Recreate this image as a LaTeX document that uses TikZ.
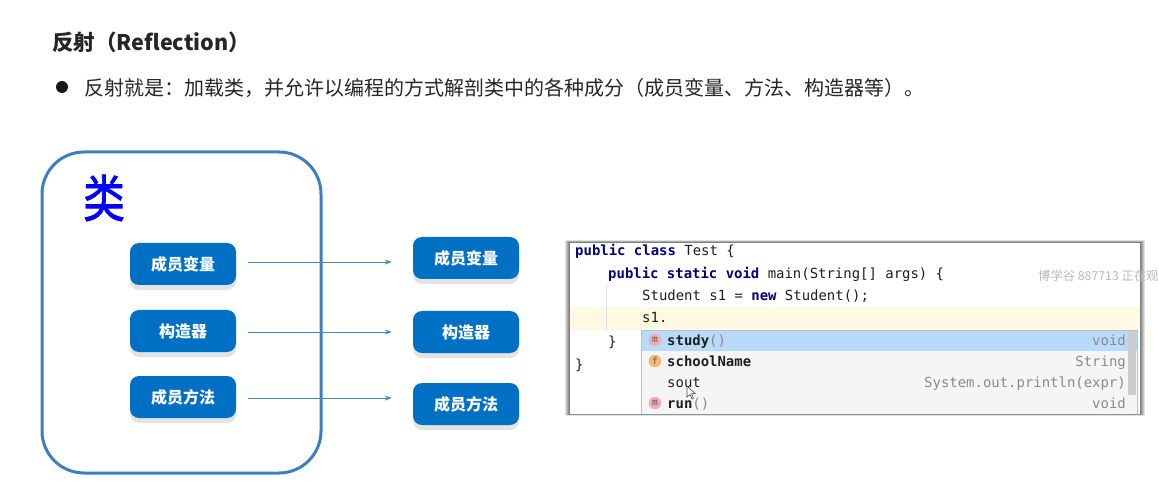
\documentclass[tikz,border=0pt]{standalone}
\usepackage{fontspec}
\setmainfont{Noto Sans CJK SC}
\setmonofont{DejaVu Sans Mono}
\newfontfamily\leifont[FakeBold=1.6]{Noto Sans CJK SC}
\usetikzlibrary{arrows.meta,positioning,calc}
\definecolor{boxblue}{HTML}{0070C4}
\definecolor{framelinecol}{HTML}{3C7FBF}
\definecolor{arrowcol}{HTML}{4A85BE}
\definecolor{kwcol}{HTML}{000080}
\definecolor{codecol}{HTML}{1E1E1E}
\definecolor{hintcol}{HTML}{8A8A8A}
\definecolor{caretline}{HTML}{FFF8E3}
\definecolor{popupbg}{HTML}{F5F4F7}
\definecolor{selrow}{HTML}{B9DBFB}
\definecolor{methodbadge}{HTML}{F5AAB8}
\definecolor{fieldbadge}{HTML}{F7B871}
\tikzset{
  itembox/.style={fill=boxblue,rounded corners=9pt,minimum width=106pt,minimum height=42pt,inner sep=0pt,
    text=white,font=\fontsize{16}{18}\selectfont\bfseries,
    preaction={draw=none,fill=black!11,transform canvas={yshift=-5pt}}},
  flowline/.style={draw=arrowcol,line width=0.9pt,-{Stealth[length=7pt,width=5pt]},shorten <=12pt,shorten >=21pt},
  codetext/.style={anchor=base west,inner sep=0pt,text=codecol,font=\ttfamily\fontsize{13.95}{16}\selectfont},
  hinttext/.style={anchor=base east,inner sep=0pt,text=hintcol,font=\ttfamily\fontsize{13.95}{16}\selectfont},
  badge/.style={circle,minimum size=12.5pt,inner sep=0pt,font=\ttfamily\fontsize{9.5}{10}\selectfont,text=black!65},
}
\newcommand{\kw}[1]{\textcolor{kwcol}{\bfseries #1}}
\begin{document}
\begin{tikzpicture}[x=1pt,y=-1pt]
\useasboundingbox (0,0) rectangle (1159,486);
\fill[white] (0,0) rectangle (1159,486);
% heading
\node[anchor=base west,inner sep=0pt,text=black!85,font=\fontsize{21.5}{24}\selectfont\bfseries] (title) at (52,51) {反射（Reflection）};
\node[circle,fill=black!90,minimum size=12pt,inner sep=0pt] (dot) at (62,87) {};
\node[anchor=base west,inner sep=0pt,text=black!85,font=\fontsize{20}{24}\selectfont] (line) at (84,96) {反射就是：加载类，并允许以编程的方式解剖类中的各种成分（成员变量、方法、构造器等）。};
% class frame
\node[draw=framelinecol,line width=3pt,rounded corners=42pt,minimum width=279pt,minimum height=321pt,inner sep=0pt] (frame) at (181.5,312.5) {};
\node[inner sep=0pt,text={rgb,255:red,0;green,0;blue,255},xscale=0.95,yscale=1.15,font=\leifont\fontsize{44}{48}\selectfont] (lei) at (104,198) {类};
% boxes
\node[itembox] (a1) at (183,264) {成员变量};
\node[itembox] (a2) at (183,331) {构造器};
\node[itembox] (a3) at (183,397) {成员方法};
\node[itembox] (b1) at (466,258) {成员变量};
\node[itembox] (b2) at (466,332) {构造器};
\node[itembox] (b3) at (466,404) {成员方法};
\draw[flowline] ([yshift=2pt]a1.east) -- ([yshift=2pt]a1.east -| b1.west);
\draw[flowline] ([yshift=-1pt]a2.east) -- ([yshift=-1pt]a2.east -| b2.west);
\draw[flowline] ([yshift=-1pt]a3.east) -- ([yshift=-1pt]a3.east -| b3.west);
% code panel
\foreach \g/\c in {5/12,4/22,3/32,2/42,1/50}{
  \fill[black!\c] (570-\g,243-\g*0.5) rectangle (1140+\g,414+\g*0.3);
}
\fill[white] (570,243) rectangle (1140,414);
\fill[caretline] (570,307) rectangle (1140,330);
\draw[black!12,line width=0.8pt] (606,285) -- (606,330);
\node[codetext] (c1) at (575,255.5) {\kw{public} \kw{class} Test \{};
\node[codetext] (c2) at (608,278.5) {\kw{public} \kw{static} \kw{void} main(String[] args) \{};
\node[codetext] (c3) at (642,301) {Student s1 = \kw{new} Student();};
\node[codetext] (c4) at (642,323) {s1.};
\node[codetext] (c5) at (608,346) {\}};
\node[codetext] (c6) at (575,369) {\}};
% popup
\fill[popupbg] (641,330) rectangle (1137,414);
\fill[selrow] (641,330) rectangle (1137,351);
\draw[black!25,line width=0.7pt] (641,414) -- (641,330) -- (1137,330) -- (1137,414);
\fill[black!20] (1128,331) rectangle (1136,395);
\node[badge,fill=methodbadge] (m1) at (655,340) {m};
\node[badge,fill=fieldbadge] (f1) at (655,361) {f};
\node[badge,fill=methodbadge] (m2) at (655,403) {m};
\node[codetext] (p1) at (667,345) {\textbf{study}\textcolor{hintcol}{()}};
\node[codetext] (p2) at (667,366) {\textbf{schoolName}};
\node[codetext] (p3) at (667,387) {sout};
\node[codetext] (p4) at (667,408) {\textbf{run}\textcolor{hintcol}{()}};
\node[hinttext] (h1) at (1126,345) {void};
\node[hinttext] (h2) at (1126,366) {String};
\node[hinttext] (h3) at (1126,387) {System.out.println(expr)};
\node[hinttext] (h4) at (1126,408) {void};
% mouse pointer
\draw[black!70,fill=white,line width=0.6pt] (687,386) -- (687,397) -- (690,394.5) -- (692,399) -- (693.5,398) -- (691.5,393.8) -- (695,393.5) -- cycle;
% watermark
\node[anchor=base west,inner sep=0pt,text=black!27,font=\fontsize{12.3}{14}\selectfont] (wm) at (1038,280) {博学谷 887713 正在观};
\end{tikzpicture}
\end{document}
